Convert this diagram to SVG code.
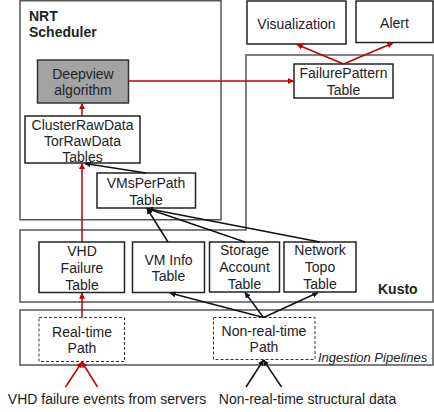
<svg xmlns="http://www.w3.org/2000/svg" width="434" height="412" viewBox="0 0 434 412">
<style>
  text { font-family: "Liberation Sans", Arial, sans-serif; font-size: 14px; fill: #222; text-anchor: middle; }
  .title { font-weight: bold; text-anchor: start; }
  .ital { font-style: italic; font-size: 13px; text-anchor: start; }
  .container { fill: #fff; stroke: #555; stroke-width: 1.5; }
  .box { fill: #fff; stroke: #222; stroke-width: 1.5; }
  .dash { fill: #fff; stroke: #333; stroke-width: 1; stroke-dasharray: 3 2; }
  .grey { fill: #a3a3a3; stroke: #333; stroke-width: 1.5; }
  .blk { stroke: #111; stroke-width: 1.5; fill: none; }
  .red { stroke: #c00000; stroke-width: 1.5; fill: none; }
</style>
<defs>
  <marker id="ab" viewBox="0 0 8 8" refX="7.5" refY="4" markerWidth="6" markerHeight="6" markerUnits="userSpaceOnUse" orient="auto">
    <path d="M0,0 L8,4 L0,8 z" fill="#111"/>
  </marker>
  <marker id="ar" viewBox="0 0 8 8" refX="7.5" refY="4" markerWidth="6" markerHeight="6" markerUnits="userSpaceOnUse" orient="auto">
    <path d="M0,0 L8,4 L0,8 z" fill="#c00000"/>
  </marker>
</defs>

<g id="containers">
  <g id="nrt-scheduler">
    <rect class="container" x="20" y="0.75" width="201" height="219"/>
    <text class="title" x="29" y="21">NRT</text>
    <text class="title" x="29" y="37">Scheduler</text>
  </g>
  <g id="kusto">
    <path class="container" d="M20,230 L246,230 L246,55 L433,55 L433,302 L20,302 Z"/>
    <text class="title" x="378" y="294">Kusto</text>
  </g>
  <g id="ingestion">
    <rect class="container" x="20" y="310" width="413" height="55"/>
    <text class="ital" x="318" y="362">Ingestion Pipelines</text>
  </g>
</g>

<g id="visualization">
  <rect class="box" x="247" y="1" width="99" height="43"/>
  <text x="296.5" y="29">Visualization</text>
</g>
<g id="alert">
  <rect class="box" x="356" y="1" width="77" height="41.5"/>
  <text x="394.5" y="27.5">Alert</text>
</g>
<g id="failurepattern">
  <rect class="box" x="294" y="64" width="99" height="34"/>
  <text x="343.5" y="78">FailurePattern</text>
  <text x="343.5" y="94.5">Table</text>
</g>
<g id="deepview">
  <rect class="grey" x="37.5" y="60" width="91" height="43"/>
  <text x="83" y="79">Deepview</text>
  <text x="83" y="95">algorithm</text>
</g>
<g id="rawdata">
  <rect class="box" x="25" y="116" width="115" height="47"/>
  <text x="82.5" y="130">ClusterRawData</text>
  <text x="82.5" y="146">TorRawData</text>
  <text x="82.5" y="162">Tables</text>
</g>
<g id="vmsperpath">
  <rect class="box" x="97" y="173" width="98.5" height="35"/>
  <text x="146" y="188">VMsPerPath</text>
  <text x="146" y="205">Table</text>
</g>
<g id="vhd-failure">
  <rect class="box" x="39" y="242" width="85.5" height="50.5"/>
  <text x="82" y="256">VHD</text>
  <text x="82" y="273">Failure</text>
  <text x="82" y="290">Table</text>
</g>
<g id="vminfo">
  <rect class="box" x="132.5" y="242" width="72" height="50.5"/>
  <text x="168.5" y="265">VM Info</text>
  <text x="168.5" y="281">Table</text>
</g>
<g id="storage">
  <rect class="box" x="209.5" y="242" width="70" height="50"/>
  <text x="244.5" y="255">Storage</text>
  <text x="244.5" y="272">Account</text>
  <text x="244.5" y="289">Table</text>
</g>
<g id="network">
  <rect class="box" x="284" y="242" width="72" height="50"/>
  <text x="320" y="255">Network</text>
  <text x="320" y="272">Topo</text>
  <text x="320" y="289">Table</text>
</g>
<g id="realtime">
  <rect class="dash" x="39" y="317.5" width="85.5" height="44"/>
  <text x="82" y="337">Real-time</text>
  <text x="82" y="353">Path</text>
</g>
<g id="nonrealtime">
  <rect class="dash" x="213.5" y="317.5" width="101.5" height="42"/>
  <text x="264" y="336">Non-real-time</text>
  <text x="264" y="352">Path</text>
</g>
<g id="sources">
  <text x="107" y="404">VHD failure events from servers</text>
  <text x="307.5" y="404">Non-real-time structural data</text>
</g>

<g id="connectors">
  <!-- red path -->
  <line class="red" x1="65.5" y1="387" x2="82" y2="362" marker-end="url(#ar)"/>
  <line class="red" x1="97.5" y1="387" x2="82" y2="362" marker-end="url(#ar)"/>
  <line class="red" x1="82" y1="317.5" x2="82" y2="293" marker-end="url(#ar)"/>
  <line class="red" x1="82" y1="242" x2="82" y2="163.5" marker-end="url(#ar)"/>
  <line class="red" x1="82" y1="116" x2="82" y2="103.5" marker-end="url(#ar)"/>
  <line class="red" x1="128.5" y1="81" x2="293.5" y2="81" marker-end="url(#ar)"/>
  <line class="red" x1="343.5" y1="64" x2="297" y2="44.5" marker-end="url(#ar)"/>
  <line class="red" x1="343.5" y1="64" x2="393" y2="43" marker-end="url(#ar)"/>
  <!-- black path -->
  <line class="blk" x1="246" y1="387" x2="263.5" y2="360" marker-end="url(#ab)"/>
  <line class="blk" x1="281.5" y1="387" x2="263.5" y2="360" marker-end="url(#ab)"/>
  <line class="blk" x1="263.5" y1="317.5" x2="170" y2="293" marker-end="url(#ab)"/>
  <line class="blk" x1="263.5" y1="317.5" x2="245" y2="292.5" marker-end="url(#ab)"/>
  <line class="blk" x1="263.5" y1="317.5" x2="318" y2="292.5" marker-end="url(#ab)"/>
  <line class="blk" x1="168" y1="242" x2="147" y2="208.5" marker-end="url(#ab)"/>
  <line class="blk" x1="245" y1="242" x2="147" y2="208.5" marker-end="url(#ab)"/>
  <line class="blk" x1="320" y1="242" x2="147" y2="208.5" marker-end="url(#ab)"/>
  <line class="blk" x1="146" y1="173" x2="85" y2="163.5" marker-end="url(#ab)"/>
</g>
</svg>
